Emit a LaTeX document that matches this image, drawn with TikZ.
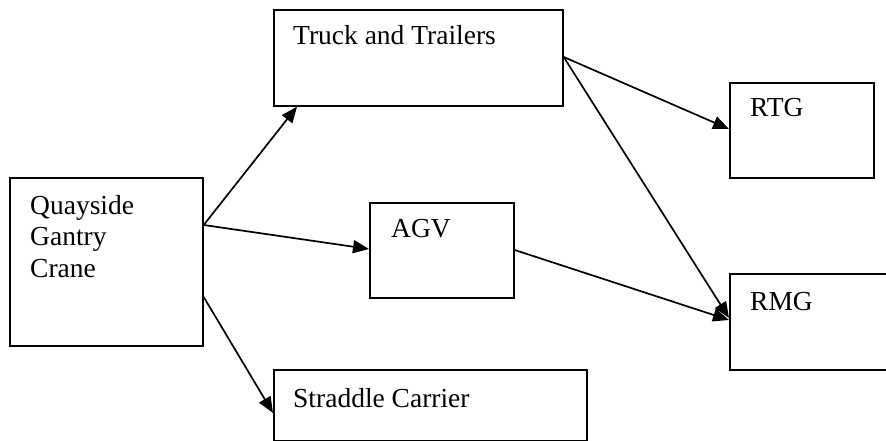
\documentclass[tikz,border=0pt]{standalone}
\usepackage{fontspec}
\setmainfont{Liberation Serif}
\usetikzlibrary{arrows.meta,calc}

\tikzset{
  box/.style={draw=black, line width=1.7pt, inner sep=0pt, anchor=north west, fill=none},
  lbl/.style={inner sep=0pt, anchor=base west, font=\fontsize{27.5}{31.5}\selectfont},
  flow/.style={line width=1.7pt, -{Triangle[length=16pt,width=13pt]}},
}

\begin{document}
\begin{tikzpicture}[x=1pt, y=-1pt]
  \useasboundingbox (0,0) rectangle (886,441);

  % boxes (top-left corner, width, height)
  \node[box, minimum width=193pt, minimum height=168pt] (qgc) at (9,177) {};
  \node[box, minimum width=289pt, minimum height=96pt]  (truck) at (273,9) {};
  \node[box, minimum width=144pt, minimum height=95pt]  (agv) at (369,202) {};
  \node[box, minimum width=144pt, minimum height=95pt]  (rtg) at (729,82) {};
  \node[box, minimum width=170pt, minimum height=96pt]  (rmg) at (729,273) {};
  \node[box, minimum width=313pt, minimum height=71pt]  (sc) at (273,369) {};

  % labels
  \node[lbl] (qgc1) at (30,214) {Quayside};
  \node[lbl] (qgc2) at (30,245.5) {Gantry};
  \node[lbl] (qgc3) at (30,277) {Crane};
  \node[lbl] (truckt) at (293,45) {Truck and Trailers};
  \node[lbl] (agvt) at (391,237) {AGV};
  \node[lbl] (rtgt) at (750,117) {RTG};
  \node[lbl] (rmgt) at (750,310) {RMG};
  \node[lbl] (sct) at (293,407) {Straddle Carrier};

  % connector end points on the box edges
  \coordinate (qgcA) at ($(qgc.north east)+(0,48)$);
  \coordinate (qgcB) at ($(qgc.north east)+(0,120)$);
  \coordinate (truckIn) at ($(truck.south west)+(24,0)$);
  \coordinate (truckOut) at ($(truck.north east)+(0,48)$);
  \coordinate (agvIn) at ($(agv.north west)+(0,47)$);
  \coordinate (agvOut) at ($(agv.north east)+(0,48)$);
  \coordinate (scIn) at ($(sc.north west)+(0,44)$);
  \coordinate (rtgIn) at ($(rtg.north west)+(0,47)$);
  \coordinate (rmgInA) at ($(rmg.north west)+(0,45)$);
  \coordinate (rmgInB) at ($(rmg.north west)+(0,47)$);

  % connectors
  \draw[flow] (qgcA) -- (truckIn);
  \draw[flow] (qgcA) -- (agvIn);
  \draw[flow] (qgcB) -- (scIn);
  \draw[flow] (truckOut) -- (rtgIn);
  \draw[flow] (truckOut) -- (rmgInA);
  \draw[flow] (agvOut) -- (rmgInB);
\end{tikzpicture}
\end{document}
